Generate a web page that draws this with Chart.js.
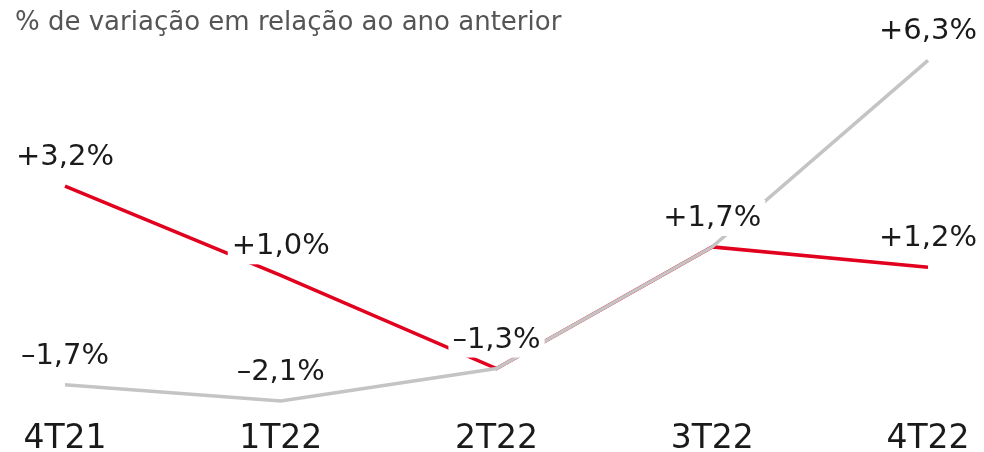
<!DOCTYPE html>
<html>
<head>
<meta charset="utf-8">
<script src="https://cdn.jsdelivr.net/npm/chart.js@4"></script>
<style>
html,body{margin:0;padding:0;background:#fff}
#wrap{width:984px;height:452px;position:relative}
</style>
</head>
<body>
<div id="wrap"><canvas id="chart" width="984" height="452"></canvas></div>
<script>
const title="% de variação em relação ao ano anterior"
const quarters=["4T21","1T22","2T22","3T22","4T22"]
const redValues=[3.2,1.0,-1.3,1.7,1.2]
const grayValues=[-1.7,-2.1,-1.3,1.7,6.3]
// labels shown per series (null = shared point, label drawn once)
const redLabels=["+3,2%","+1,0%","–1,3%","+1,7%","+1,2%"]
const grayLabels=["–1,7%","–2,1%",null,null,"+6,3%"]

const RED="#e2001f"
const GRAY="#c4c4c4"
const FONT="'DejaVu Sans', sans-serif"

const labelPlugin={
id:"pointLabels",
afterDatasetsDraw(chart){
const ctx=chart.ctx
ctx.save()
ctx.font="29px "+FONT
ctx.textAlign="center"
ctx.textBaseline="alphabetic"
chart.data.datasets.forEach((ds,di)=>{
const meta=chart.getDatasetMeta(di)
ds.pointText.forEach((t,i)=>{
if(!t)return
const p=meta.data[i]
const w=ctx.measureText(t).width
const by=p.y-21
ctx.fillStyle="#fff"
ctx.fillRect(p.x-w/2-4,by-26,w+8,36)
ctx.fillStyle="#1a1a1a"
ctx.fillText(t,p.x,by)
})
})
ctx.restore()
}
}

const framePlugin={
id:"frameText",
afterDraw(chart){
const ctx=chart.ctx
const x=chart.scales.x
ctx.save()
ctx.fillStyle="#555"
ctx.font="26px "+FONT
ctx.textAlign="left"
ctx.textBaseline="alphabetic"
ctx.fillText(title,15,30)
ctx.fillStyle="#1a1a1a"
ctx.font="33px "+FONT
ctx.textAlign="center"
quarters.forEach((q,i)=>{
ctx.fillText(q,x.getPixelForValue(i),448)
})
ctx.restore()
}
}

new Chart(document.getElementById("chart"),{
type:"line",
data:{
labels:quarters,
datasets:[
{
label:"cinza",
data:grayValues,
pointText:grayLabels,
borderColor:GRAY,
borderWidth:3.5,
pointRadius:0,
tension:0,
borderCapStyle:"butt"
},
{
label:"vermelho",
data:redValues,
pointText:redLabels,
borderColor:RED,
borderWidth:3.5,
pointRadius:0,
tension:0,
borderCapStyle:"butt"
}
]
},
options:{
responsive:false,
animation:false,
layout:{padding:{left:65,right:56,top:32,bottom:14.5}},
plugins:{legend:{display:false},tooltip:{enabled:false}},
scales:{
x:{display:false,offset:false},
y:{display:false,min:-3,max:7}
}
},
plugins:[labelPlugin,framePlugin]
})
</script>
</body>
</html>
